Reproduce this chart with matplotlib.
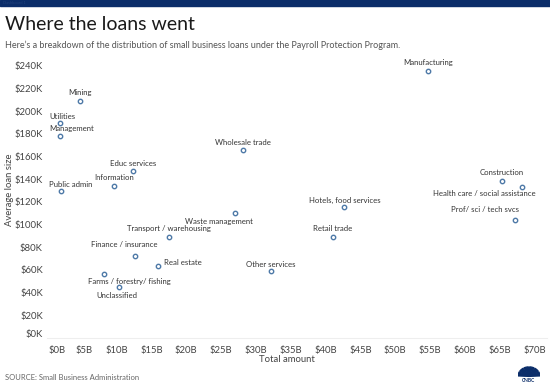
import numpy as np
import matplotlib.pyplot as plt
import matplotlib.transforms as mtransforms
from matplotlib.patches import Rectangle, Wedge

plt.rcParams['font.family'] = ['Lato', 'DejaVu Sans']

"""data"""
sectors = ["Manufacturing", "Mining", "Utilities", "Management", "Wholesale trade",
           "Educ services", "Information", "Public admin", "Construction",
           "Health care / social assistance", "Prof/ sci / tech svcs",
           "Hotels, food services", "Waste management", "Transport / warehousing",
           "Retail trade", "Finance / insurance", "Real estate", "Other services",
           "Farms / forestry/ fishing", "Unclassified"]
total_amount_b = [54.7, 4.8, 1.8, 1.9, 28.2, 12.3, 9.6, 2.0, 65.3, 68.2, 67.2,
                  42.7, 27.0, 17.5, 41.0, 12.6, 16.0, 32.2, 8.2, 10.3]
avg_loan_k = [235.6, 209.1, 189.2, 178.0, 165.6, 147.1, 134.1, 129.4, 138.5, 133.2,
              104.1, 115.1, 109.8, 89.1, 89.1, 72.4, 63.3, 58.6, 56.5, 44.5]

x_ticks = np.arange(0, 75, 5)
y_ticks = np.arange(0, 260, 20)

# label placement: offset in pixels (right, up) and alignment
label_pos = {
    "Manufacturing": (0, 8, 'center'),
    "Mining": (0, 8, 'center'),
    "Utilities": (-10, 7, 'left'),
    "Management": (-11, 7, 'left'),
    "Wholesale trade": (0, 8, 'center'),
    "Educ services": (0, 8, 'center'),
    "Information": (0, 8, 'center'),
    "Public admin": (-12, 7, 'left'),
    "Construction": (0, 8, 'center'),
    "Health care / social assistance": (14, -7, 'right'),
    "Prof/ sci / tech svcs": (4, 10, 'right'),
    "Hotels, food services": (0, 7, 'center'),
    "Waste management": (18, -8, 'right'),
    "Transport / warehousing": (0, 8, 'center'),
    "Retail trade": (0, 8, 'center'),
    "Finance / insurance": (23, 11, 'right'),
    "Real estate": (6, 3, 'left'),
    "Other services": (0, 7, 'center'),
    "Farms / forestry/ fishing": (-16, -8, 'left'),
    "Unclassified": (-2, -8, 'center'),
}

W, H = 550, 384
fig = plt.figure(figsize=(W / 100, H / 100), dpi=100)

# top banner
fig.patches.append(Rectangle((0, 1 - 6 / H), 1, 6 / H, transform=fig.transFigure,
                             color='#0b2d69', zorder=0))
fig.text(3 / W, 1 - 3 / H, "Dashboard 1", fontsize=3, color='#20407a', va='center')

fig.text(5 / W, 1 - 25 / H, "Where the loans went", fontsize=14, color='#1a1a1a',
         va='center')
fig.text(5 / W, 1 - 45 / H,
         "Here\u2019s a breakdown of the distribution of small business loans under the Payroll Protection Program.",
         fontsize=6.45, color='#555555', va='center')

ax = fig.add_axes([47 / W, 1 - 337.7 / H, 500 / W, (337.7 - 54.4) / H])
ax.scatter(total_amount_b, avg_loan_k, s=10, facecolors='white',
           edgecolors='#4e79a7', linewidths=1.0, zorder=3)

for name, xv, yv in zip(sectors, total_amount_b, avg_loan_k):
    dx, dy, ha = label_pos[name]
    ax.annotate(name, (xv, yv), xytext=(dx, dy), textcoords='offset pixels',
                ha=ha, va='center', fontsize=5.6, color='#333333')

ax.set_xlim(0, 71.8)
ax.set_ylim(0, 250)
ax.set_xticks(x_ticks)
ax.set_xticklabels([f"${v}B" for v in x_ticks])
ax.set_yticks(y_ticks)
ax.set_yticklabels([f"${v}K" for v in y_ticks])
ax.tick_params(length=0, labelsize=6.8, labelcolor='#444444')
ax.tick_params(axis='x', pad=6)
ax.tick_params(axis='y', pad=3)

# first tick labels nudged inward like the original
ax.get_xticklabels()[0].set_transform(
    ax.get_xticklabels()[0].get_transform() + mtransforms.ScaledTranslation(10 / 100, 0, fig.dpi_scale_trans))
ax.get_xticklabels()[1].set_transform(
    ax.get_xticklabels()[1].get_transform() + mtransforms.ScaledTranslation(2 / 100, 0, fig.dpi_scale_trans))
ax.get_yticklabels()[0].set_transform(
    ax.get_yticklabels()[0].get_transform() + mtransforms.ScaledTranslation(0, 4 / 100, fig.dpi_scale_trans))

for s in ['top', 'right', 'left']:
    ax.spines[s].set_visible(False)
ax.spines['bottom'].set_color('#eeeeee')
ax.spines['bottom'].set_linewidth(0.8)

fig.text(287 / W, 1 - 360 / H, "Total amount", fontsize=6.8, color='#444444',
         ha='center', va='center')
fig.text(10 / W, 1 - 190 / H, "Average loan size", fontsize=6.8, color='#444444',
         ha='center', va='center', rotation=90)
fig.text(5 / W, 1 - 377 / H, "SOURCE: Small Business Administration", fontsize=5.5,
         color='#666666', va='center')

# small peacock mark
logo = fig.add_axes([518 / W, 1 - 383 / H, 22 / W, 18 / H])
logo.set_xlim(-1, 1)
logo.set_ylim(-0.9, 1)
logo.axis('off')
for a0 in range(0, 180, 30):
    logo.add_patch(Wedge((0, -0.2), 1.0, a0 + 3, a0 + 27, color='#0b2d69'))
logo.text(0, -0.65, "CNBC", fontsize=3.5, ha='center', va='center',
          color='#0b2d69', fontweight='bold')

fig.savefig("out.png", dpi=100)
